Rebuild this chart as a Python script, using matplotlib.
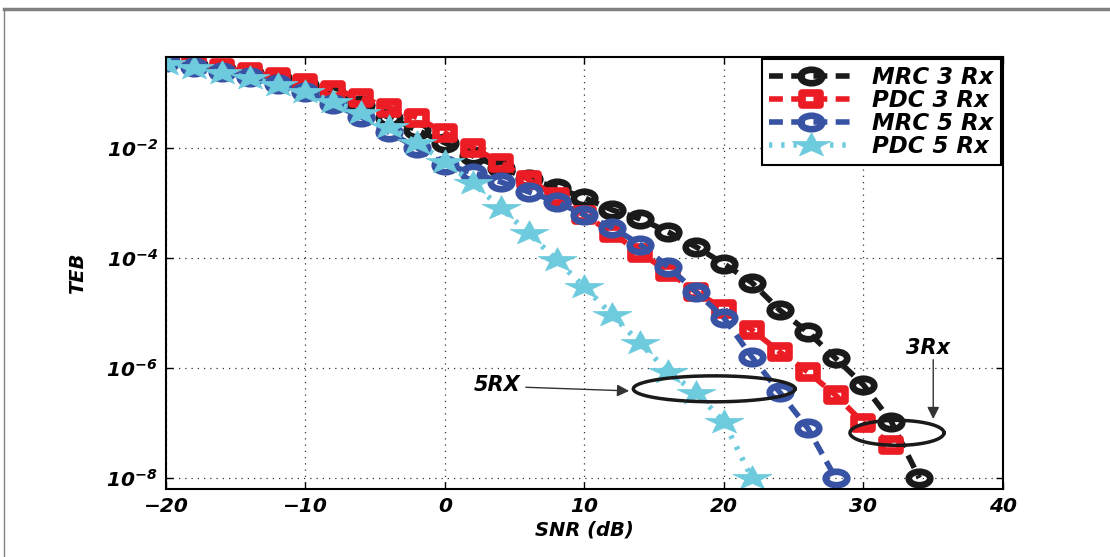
import numpy as np
import matplotlib
matplotlib.use("Agg")
import matplotlib.pyplot as plt
from matplotlib.lines import Line2D
from matplotlib.path import Path
from matplotlib.transforms import Affine2D

plt.rcParams['font.family'] = ['DejaVu Sans']
plt.rcParams['font.weight'] = 'bold'
plt.rcParams['font.style'] = 'oblique'
plt.rcParams['axes.labelweight'] = 'bold'
plt.rcParams['mathtext.fontset'] = 'custom'
plt.rcParams['mathtext.rm'] = 'DejaVu Sans:bold:oblique'
plt.rcParams['mathtext.it'] = 'DejaVu Sans:bold:oblique'
plt.rcParams['mathtext.bf'] = 'DejaVu Sans:bold:oblique'

# SNR grids (dB)
snr_mrc3 = np.arange(-20, 35, 2)
snr_pdc3 = np.arange(-20, 33, 2)
snr_mrc5 = np.arange(-20, 29, 2)
snr_pdc5 = np.arange(-20, 23, 2)

# TEB values
teb_mrc3 = [0.38, 0.324, 0.275, 0.229, 0.182, 0.138, 0.0955, 0.0603, 0.0355, 0.0209,
            0.0123, 7.16e-3, 4.37e-3, 2.75e-3, 1.86e-3, 1.23e-3, 7.4e-4, 5.1e-4, 2.95e-4,
            1.58e-4, 7.8e-5, 3.55e-5, 1.12e-5, 4.5e-6, 1.5e-6, 4.9e-7, 1.05e-7, 1.0e-8]
teb_pdc3 = [0.398, 0.351, 0.285, 0.24, 0.195, 0.151, 0.1135, 0.0813, 0.0537, 0.0355,
            0.0186, 0.01, 5.4e-3, 2.63e-3, 1.29e-3, 6.0e-4, 2.8e-4, 1.23e-4, 5.6e-5,
            2.4e-5, 1.17e-5, 4.9e-6, 1.95e-6, 8.5e-7, 3.2e-7, 1.0e-7, 4.0e-8]
teb_mrc5 = [0.355, 0.295, 0.24, 0.19, 0.145, 0.102, 0.0617, 0.0363, 0.0191, 0.01,
            4.9e-3, 3.55e-3, 2.4e-3, 1.58e-3, 1.05e-3, 6.0e-4, 3.55e-4, 1.74e-4, 6.9e-5,
            2.4e-5, 8.1e-6, 1.58e-6, 3.6e-7, 8.1e-8, 1.0e-8]
teb_pdc5 = [0.339, 0.285, 0.229, 0.186, 0.14, 0.105, 0.069, 0.0437, 0.024, 0.0123,
            5.6e-3, 2.3e-3, 8.1e-4, 2.8e-4, 9.1e-5, 2.95e-5, 9.1e-6, 2.8e-6, 8.5e-7,
            3.55e-7, 1.05e-7, 1.0e-8]

labels = ['MRC 3 Rx', 'PDC 3 Rx', 'MRC 5 Rx', 'PDC 5 Rx']
c_black, c_red, c_blue, c_cyan = '#1a1a1a', '#ec1c24', '#3953a4', '#6dcbdd'

# the original picture is stretched sideways, so are its markers
stretch = Affine2D().scale(1.6, 1.0)
m_circle = Path.unit_circle().transformed(stretch)
m_square = Path.unit_rectangle().transformed(Affine2D().translate(-0.5, -0.5).scale(1.5, 1.0))
m_star = Path.unit_regular_star(5, 0.4).transformed(stretch)

fig = plt.figure(figsize=(11.1, 5.57), dpi=100)
ax = fig.add_axes([0.1495, 0.1221, 0.7541, 0.7756])

ax.plot(snr_mrc3, teb_mrc3, color=c_black, lw=4, marker=m_circle, ms=15.5,
        mfc='none', mew=4.8, label=labels[0], dashes=(2.5, 1.5))
ax.plot(snr_pdc3, teb_pdc3, color=c_red, lw=4, marker=m_square, ms=13,
        mfc='none', mew=5.5, label=labels[1], dashes=(2.5, 1.5))
ax.plot(snr_mrc5, teb_mrc5, color=c_blue, lw=4, marker=m_circle, ms=15.5,
        mfc='none', mew=4.8, label=labels[2], dashes=(2.5, 1.5))
ax.plot(snr_pdc5, teb_pdc5, color=c_cyan, lw=4, marker=m_star, ms=28,
        mfc=c_cyan, mec=c_cyan, mew=0.5, label=labels[3], dashes=(0.6, 1.6))

ax.set_yscale('log')
ax.set_xlim(-20, 40)
ax.set_ylim(10 ** -8.2, 10 ** -0.35)
ax.set_xticks(np.arange(-20, 41, 10))
ax.set_yticks([1e-2, 1e-4, 1e-6, 1e-8])
ax.minorticks_off()
ax.set_yticklabels([r'$10^{-2}$', r'$10^{-4}$', r'$10^{-6}$', r'$10^{-8}$'])
ax.set_xticklabels(['\u221220', '\u221210', '0', '10', '20', '30', '40'])
ax.tick_params(direction='in', top=True, right=True, labelsize=14.5, width=1, length=5, pad=6)
ax.grid(True, linestyle=(0, (1, 4)), color='#333333', lw=0.9)
for s in ax.spines.values():
    s.set_linewidth(1.5)

ax.set_xlabel('SNR (dB)', fontsize=14, labelpad=3)
ax.set_ylabel('TEB', fontsize=14, labelpad=14)

leg = ax.legend(loc='upper right', fontsize=16.5, borderaxespad=0.1, handlelength=3.6,
                labelspacing=0.0, handletextpad=0.9, fancybox=False, framealpha=1,
                borderpad=0.3)
leg.get_frame().set_edgecolor('black')
leg.get_frame().set_linewidth(1.5)

# ellipses around the curves
t = np.linspace(0, 2 * np.pi, 200)
ax.plot(19.3 + 5.8 * np.cos(t), 10 ** (-6.38 + 0.236 * np.sin(t)), color='#1a1a1a', lw=2.5)
ax.plot(32.4 + 3.37 * np.cos(t), 10 ** (-7.18 + 0.227 * np.sin(t)), color='#1a1a1a', lw=2.5)

ax.annotate('', xy=(13.4, 10 ** -6.42), xytext=(5.6, 10 ** -6.35),
            arrowprops=dict(arrowstyle='-|>', color='#333333', lw=1, mutation_scale=18))
ax.text(5.4, 10 ** -6.31, '5RX', ha='right', va='center', fontsize=15)
ax.annotate('', xy=(35.0, 10 ** -6.98), xytext=(35.0, 10 ** -5.8),
            arrowprops=dict(arrowstyle='-|>', color='#333333', lw=1, mutation_scale=18))
ax.text(34.6, 10 ** -5.64, '3Rx', ha='center', va='center', fontsize=15)

# page frame
fig.add_artist(Line2D([4 / 1110, 1], [1 - 9 / 557, 1 - 9 / 557], color='#808080', lw=2.5))
fig.add_artist(Line2D([4 / 1110, 4 / 1110], [0, 1 - 9 / 557], color='#808080', lw=1))

fig.savefig('out.png', dpi=100)
